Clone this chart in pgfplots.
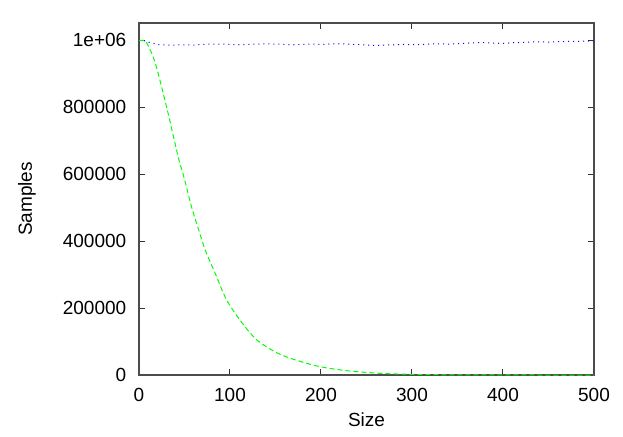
\documentclass[border=0pt]{standalone}
\usepackage{fontspec}
\setmainfont{Liberation Sans}
\usepackage{pgfplots}
\pgfplotsset{compat=1.18}
\begin{document}
\fontsize{9.5}{11}\selectfont
\begin{tikzpicture}
% keep the canvas of the reference (1px = 0.5pt)
\path[use as bounding box] (-69.5pt,-30.5pt) rectangle (242pt,187.5pt);
\begin{axis}[
    scale only axis,
    width=227.5pt,
    height=176pt,
    xmin=0, xmax=500,
    ymin=0, ymax=1052000,
    xtick={0,100,200,300,400,500},
    ytick={0,200000,400000,600000,800000,1000000},
    yticklabels={0,200000,400000,600000,800000,1e+06},
    scaled y ticks=false,
    tick align=inside,
    major tick length=2.8pt,
    tick style={black!80, line width=0.5pt},
    axis line style={black!70, line width=0.7pt},
    /pgf/number format/assume math mode=true,
    ticklabel style={font=\fontsize{9.5}{11}\selectfont},
    xticklabel style={yshift=-3pt},
    yticklabel style={xshift=-3pt},
    xlabel={Size},
    ylabel={Samples},
    label style={font=\fontsize{9.5}{11}\selectfont},
    xlabel style={yshift=1pt},
    ylabel style={yshift=7pt},
]

% blue dotted: stays near 1e6
\addplot[color=blue, line width=0.5pt, dotted] coordinates {
    (0,1000000) (5,1000000) (10,995000) (20,988000) (30,986000) (40,986000)
    (50,987000) (60,986000) (70,988000) (80,989000) (90,989000) (100,988000)
    (110,987000) (120,988000) (130,989000) (140,990000) (150,989000) (160,988000)
    (170,987000) (180,988000) (190,989000) (200,988000) (210,989000) (220,990000)
    (230,989000) (240,988000) (250,986000) (260,985000) (270,986000) (280,987000)
    (290,988000) (300,987000) (310,988000) (320,989000) (330,990000) (340,989000)
    (350,990000) (360,992000) (370,993000) (380,993000) (390,992000) (400,991000)
    (410,993000) (420,994000) (430,995000) (440,996000) (450,995000) (460,996000)
    (470,997000) (480,997000) (490,998000) (500,998000)
};

% green dashed: decays to zero
\addplot[color=green, line width=0.5pt, dash pattern=on 2.5pt off 1.5pt, smooth] coordinates {
    (0,1000000) (5,1000000) (8,995000) (15,955000) (21,902000) (32,782000)
    (43,653000) (50,585000) (58,500000) (66,430000) (73,372000) (84,302000)
    (96,226000) (111,164000) (129,106000) (151,067000) (173,044000) (199,025000)
    (228,013000) (265,005000) (298,002000) (330,800) (360,300) (400,100)
    (450,0) (500,0)
};

\end{axis}
\end{tikzpicture}
\end{document}
